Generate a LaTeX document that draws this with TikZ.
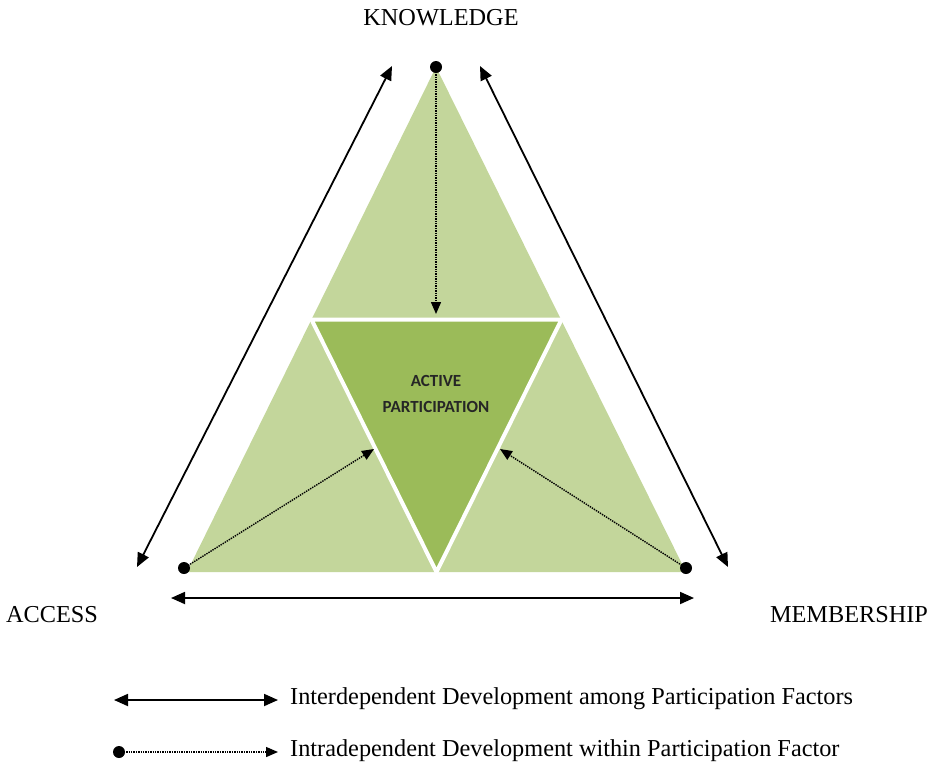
\documentclass[tikz,border=0pt]{standalone}
\usepackage{fontspec}
\setmainfont{Liberation Serif}
\newfontfamily\labelsans{Carlito}
\usetikzlibrary{arrows.meta}
\definecolor{lightolive}{HTML}{C3D69B}
\definecolor{olive}{HTML}{9BBB59}
\begin{document}
\begin{tikzpicture}[x=1pt,y=-1pt,
  factor/.style={font=\fontsize{24.3}{28}\selectfont, inner sep=0pt},
  legendtext/.style={font=\fontsize{24.3}{28}\selectfont, anchor=west, inner sep=0pt},
  inter/.style={line width=1.8pt, {Triangle[length=14pt,width=12pt]}-{Triangle[length=14pt,width=12pt]}},
  intra/.style={line width=1.4pt, densely dotted, -{Triangle[length=12pt,width=10pt]}},
  dotmark/.style={circle, fill=black, inner sep=0pt, minimum size=12pt}]
\useasboundingbox (0,0) rectangle (934,769);

% green triangle with its darker inverted centre
\coordinate (apex) at (436,67);
\coordinate (bl) at (187,572);
\coordinate (br) at (686,572);
\coordinate (ml) at (311.5,319.5);
\coordinate (mr) at (561.5,319.5);
\coordinate (mb) at (436.5,572);
\fill[lightolive] (apex) -- (bl) -- (br) -- cycle;
\filldraw[fill=olive, draw=white, line width=4pt] (ml) -- (mr) -- (mb) -- cycle;
\node[align=center, font=\labelsans\bfseries\fontsize{17}{26}\selectfont, text=black!85] (core) at (436,394) {ACTIVE\\PARTICIPATION};

% factor labels
\node[factor] (know) at (441,18) {KNOWLEDGE};
\node[factor] (acc) at (52,615) {ACCESS};
\node[factor] (mem) at (849,615) {MEMBERSHIP};

% interdependent arrows between factors
\coordinate (l1) at (137,567);
\coordinate (l2) at (392,66);
\coordinate (r1) at (480,66);
\coordinate (r2) at (728,567);
\coordinate (b1) at (171,598);
\coordinate (b2) at (694,598);
\draw[inter] (l1) -- (l2);
\draw[inter] (r1) -- (r2);
\draw[inter] (b1) -- (b2);

% intradependent arrows into the centre
\node[dotmark] (dk) at (436,67) {};
\node[dotmark] (da) at (184,568) {};
\node[dotmark] (dm) at (686,568) {};
\coordinate (tk) at (436,314);
\coordinate (ta) at (374,449);
\coordinate (tm) at (500,449);
\draw[intra] (dk.center) -- (tk);
\draw[intra] (da.center) -- (ta);
\draw[intra] (dm.center) -- (tm);

% legend
\coordinate (g1) at (114,700);
\coordinate (g2) at (278,700);
\draw[inter] (g1) -- (g2);
\node[legendtext] (gt1) at (290,699) {Interdependent Development among Participation Factors};
\node[dotmark] (gd) at (119,752) {};
\coordinate (g3) at (278,752);
\draw[intra] (gd.center) -- (g3);
\node[legendtext] (gt2) at (290,751) {Intradependent Development within Participation Factor};
\end{tikzpicture}
\end{document}
